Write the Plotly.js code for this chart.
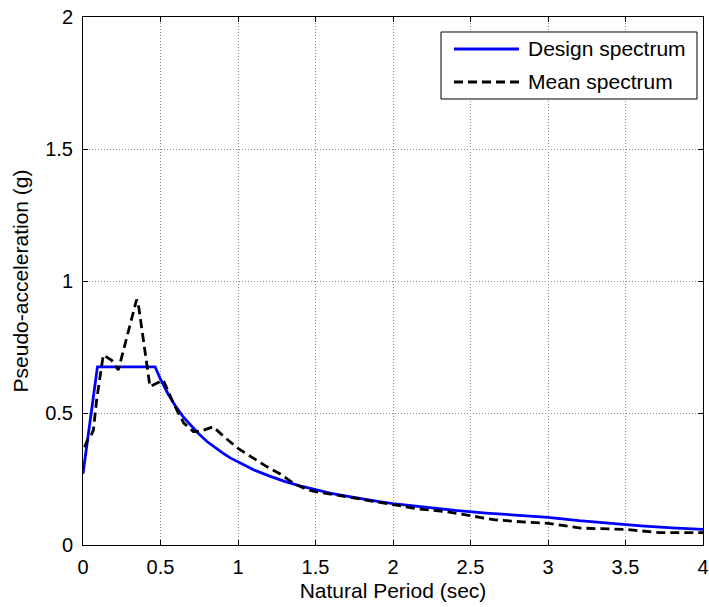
<!DOCTYPE html>
<html>
<head>
<meta charset="utf-8">
<script src="https://cdn.plot.ly/plotly-3.0.1.min.js"></script>
<style>
  html, body { margin: 0; padding: 0; background: #fff; }
  #chart { width: 709px; height: 607px; }
</style>
</head>
<body>
<div id="chart"></div>
<script>
// Design response spectrum: period (s) and pseudo-acceleration (g)
const designPeriod = [0, 0.093, 0.465, 0.5, 0.55, 0.6, 0.65, 0.7, 0.75, 0.8, 0.85, 0.9, 0.95,
  1.0, 1.1, 1.2, 1.3, 1.4, 1.5, 1.6, 1.7, 1.8, 1.9, 2.0, 2.2, 2.4, 2.6, 2.8, 3.0,
  3.2, 3.4, 3.6, 3.8, 4.0];
const designSa = [0.27, 0.675, 0.675, 0.628, 0.571, 0.523, 0.483, 0.449, 0.419, 0.392, 0.369, 0.349, 0.330,
  0.314, 0.285, 0.262, 0.241, 0.224, 0.209, 0.196, 0.185, 0.174, 0.165, 0.157, 0.143, 0.131, 0.121, 0.112, 0.105,
  0.092, 0.0815, 0.0727, 0.0652, 0.059];

// Mean spectrum of the ground motion set
const meanPeriod = [0.01, 0.03, 0.056, 0.067, 0.088, 0.1, 0.131, 0.185, 0.228, 0.346, 0.36, 0.432, 0.475, 0.518,
  0.583, 0.65, 0.712, 0.755, 0.84, 0.92, 1.0, 1.1, 1.185, 1.27, 1.357, 1.443, 1.5, 1.7, 1.83, 2.0,
  2.17, 2.35, 2.5, 2.65, 2.8, 3.0, 3.21, 3.5, 3.72, 4.0];
const meanSa = [0.37, 0.40, 0.42, 0.435, 0.55, 0.60, 0.72, 0.70, 0.663, 0.93, 0.90, 0.60, 0.612, 0.625,
  0.537, 0.462, 0.43, 0.43, 0.448, 0.405, 0.366, 0.33, 0.297, 0.27, 0.234, 0.21, 0.202, 0.183, 0.170, 0.151,
  0.136, 0.126, 0.110, 0.096, 0.089, 0.082, 0.064, 0.059, 0.047, 0.047];

const xTicks = [0, 0.5, 1, 1.5, 2, 2.5, 3, 3.5, 4];
const xTickText = ['0', '0.5', '1', '1.5', '2', '2.5', '3', '3.5', '4'];
const yTicks = [0, 0.5, 1, 1.5, 2];
const yTickText = ['0', '0.5', '1', '1.5', '2'];
const seriesNames = ['Design spectrum', 'Mean spectrum'];

const FONT = 'Liberation Sans, Arial, Helvetica, sans-serif';
const BLUE = '#0000ff';
const DASH = '9px,5px';
const LW = 2.8;

const traces = [
  {
    x: designPeriod, y: designSa, type: 'scatter', mode: 'lines', name: seriesNames[0],
    line: { color: BLUE, width: LW }, showlegend: false
  },
  {
    x: meanPeriod, y: meanSa, type: 'scatter', mode: 'lines', name: seriesNames[1],
    line: { color: '#000000', width: LW, dash: DASH }, showlegend: false
  }
];

const axisCommon = {
  showgrid: true, gridcolor: '#8c8c8c', gridwidth: 1, griddash: '1px,2px',
  zeroline: false, showline: true, linecolor: '#000', linewidth: 1, mirror: 'ticks',
  ticks: 'inside', ticklen: 5, tickcolor: '#000', tickwidth: 1,
  tickfont: { family: FONT, size: 20, color: '#000' }
};

// Legend box drawn in paper coordinates (upper right of the axes)
const lgX0 = 0.5774, lgX1 = 0.9903, lgY0 = 0.8447, lgY1 = 0.9716;
const lgLineX0 = 0.5984, lgLineX1 = 0.7032, lgTextX = 0.7145;
const lgRows = [0.9394, 0.8769];

const layout = {
  width: 709, height: 607,
  margin: { l: 83, r: 6, t: 17, b: 62, pad: 0 },
  paper_bgcolor: '#fff', plot_bgcolor: '#fff',
  showlegend: false,
  font: { family: FONT, size: 21, color: '#000' },
  xaxis: Object.assign({}, axisCommon, {
    range: [0, 4], tickmode: 'array', tickvals: xTicks, ticktext: xTickText,
    ticklabelstandoff: 4,
    title: { text: 'Natural Period (sec)', font: { family: FONT, size: 21, color: '#000' }, standoff: 6 }
  }),
  yaxis: Object.assign({}, axisCommon, {
    range: [0, 2], tickmode: 'array', tickvals: yTicks, ticktext: yTickText,
    ticklabelstandoff: 5,
    title: { text: 'Pseudo-acceleration (g)', font: { family: FONT, size: 21, color: '#000' }, standoff: 10 }
  }),
  shapes: [
    { type: 'rect', xref: 'paper', yref: 'paper', x0: lgX0, x1: lgX1, y0: lgY0, y1: lgY1,
      line: { color: '#000', width: 1 }, fillcolor: '#fff', layer: 'above' },
    { type: 'line', xref: 'paper', yref: 'paper', x0: lgLineX0, x1: lgLineX1, y0: lgRows[0], y1: lgRows[0],
      line: { color: BLUE, width: LW }, layer: 'above' },
    { type: 'line', xref: 'paper', yref: 'paper', x0: lgLineX0, x1: lgLineX1, y0: lgRows[1], y1: lgRows[1],
      line: { color: '#000', width: LW, dash: DASH }, layer: 'above' }
  ],
  annotations: seriesNames.map((name, i) => ({
    xref: 'paper', yref: 'paper', x: lgTextX, y: lgRows[i], xanchor: 'left', yanchor: 'middle',
    text: name, showarrow: false, font: { family: FONT, size: 21, color: '#000' }
  }))
};

Plotly.newPlot('chart', traces, layout, { displayModeBar: false, staticPlot: true });
</script>
</body>
</html>
